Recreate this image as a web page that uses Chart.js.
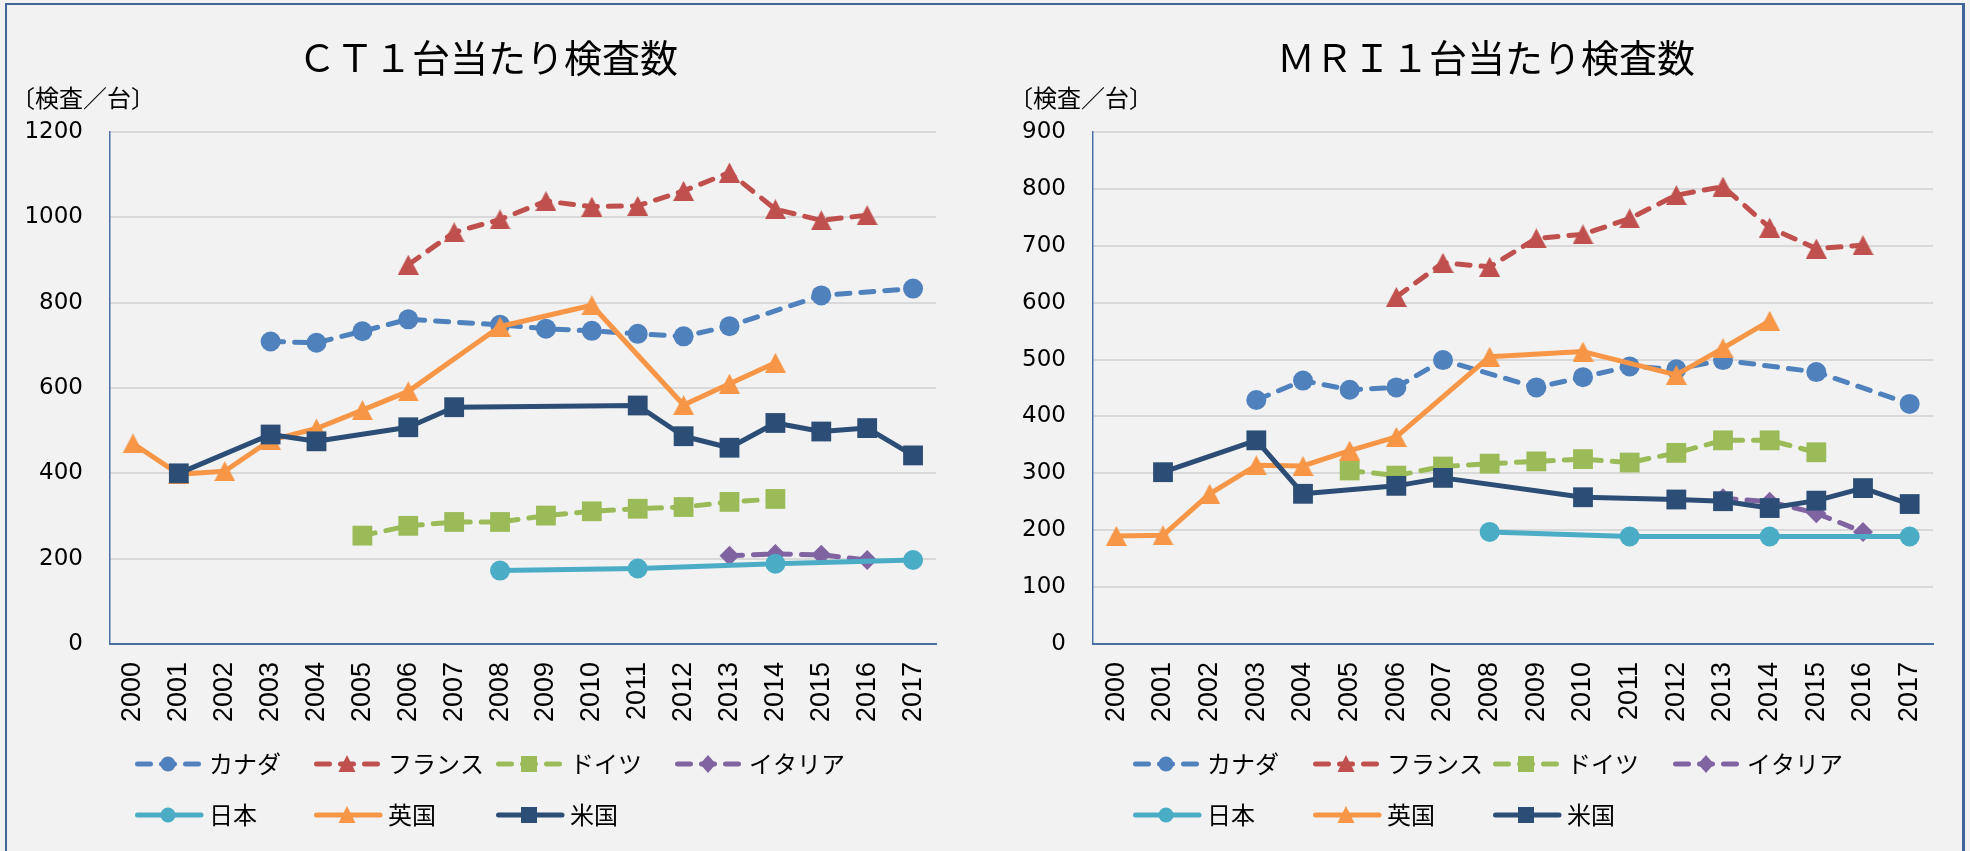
<!DOCTYPE html>
<html lang="ja">
<head>
<meta charset="utf-8">
<title>CT・MRI 1台当たり検査数</title>
<script src="https://cdn.jsdelivr.net/npm/chart.js@4.4.1/dist/chart.umd.min.js"></script>
<style>
  html, body { margin: 0; padding: 0; background: #f2f2f2; overflow: hidden; }
  #frame {
    position: absolute; left: 5px; top: 3px; width: 1955px; height: 900px;
    border: 2px solid #41659a; border-right-width: 3px;
  }
  canvas { position: absolute; top: 0; }
  #ct { left: 0; }
  #mri { left: 985px; }
</style>
</head>
<body>
<div id="frame"></div>
<canvas id="ct" width="985" height="851"></canvas>
<canvas id="mri" width="985" height="851"></canvas>
<script>
// categories
const years = ['2000', '2001', '2002', '2003', '2004', '2005', '2006', '2007', '2008',
               '2009', '2010', '2011', '2012', '2013', '2014', '2015', '2016', '2017'];

const seriesNames = ['カナダ', 'フランス', 'ドイツ', 'イタリア', '日本', '英国', '米国'];
const unitLabel = '〔検査／台〕';

// CT 1台当たり検査数 (null = no data that year)
const ctCanada  = [null, null, null, 709, 706, 733, 761, null, 748, 739, 734, 727, 721, 745, null, 817, null, 833];
const ctFrance  = [null, null, null, null, null, null, 889, 965, 995, 1038, 1025, 1027, 1062, 1105, 1019, 993, 1005, null];
const ctGermany = [null, null, null, null, null, 254, 277, 286, 286, 301, 311, 317, 321, 333, 340, null, null, null];
const ctItaly   = [null, null, null, null, null, null, null, null, null, null, null, null, null, 207, 211, 209, 197, null];
const ctJapan   = [null, null, null, null, null, null, null, null, 172, null, null, 177, null, null, 188, null, null, 197];
const ctUK      = [470, 398, 405, 478, 505, 548, 592, null, 744, null, 794, null, 560, 610, 659, null, null, null];
const ctUS      = [null, 400, null, 491, 475, null, 508, 555, null, null, null, 559, 487, 460, 518, 498, 506, 442];

// MRI 1台当たり検査数
const mriCanada  = [null, null, null, 429, 463, 447, 451, 499, null, 451, 469, 488, 483, 499, null, 478, null, 422];
const mriFrance  = [null, null, null, null, null, null, 610, 670, 663, 713, 720, 748, 789, 804, 732, 695, 701, null];
const mriGermany = [null, null, null, null, null, 305, 296, 312, 317, 321, 325, 319, 336, 358, 358, 337, null, null];
const mriItaly   = [null, null, null, null, null, null, null, null, null, null, null, null, null, 256, 250, 230, 197, null];
const mriJapan   = [null, null, null, null, null, null, null, null, 197, null, null, 189, null, null, 189, null, null, 189];
const mriUK      = [190, 191, 264, 314, 313, 340, 364, null, 505, null, 514, null, 473, 520, 568, null, null, null];
const mriUS      = [null, 302, null, 358, 264, null, 278, 292, null, null, 258, null, 254, 251, 239, 252, 274, 246];

// styles per series
const colors  = ['#4f81bd', '#c0504d', '#9bbb59', '#8064a2', '#4bacc6', '#f79646', '#2c4d75'];
const dashed  = [true, true, true, true, false, false, false];
const markers = ['circle', 'triangle', 'rect', 'rectRot', 'circle', 'triangle', 'rect'];
const DASH = [13, 11];

function triangleImage(color) {
    const c = document.createElement('canvas');
    c.width = 21;
    c.height = 20;
    const g = c.getContext('2d');
    g.fillStyle = color;
    g.beginPath();
    g.moveTo(10.5, 0);
    g.lineTo(21, 20);
    g.lineTo(0, 20);
    g.closePath();
    g.fill();
    return c;
}

function pointSize(kind) {
    if (kind === 'rect') return 14;
    return 10;
}

// small legend marker
function drawMarker(ctx, kind, x, y, color) {
    ctx.fillStyle = color;
    ctx.beginPath();
    if (kind === 'circle') {
        ctx.arc(x, y, 7.5, 0, Math.PI * 2);
    } else if (kind === 'rect') {
        ctx.rect(x - 8, y - 8, 16, 16);
    } else if (kind === 'rectRot') {
        ctx.moveTo(x, y - 9); ctx.lineTo(x + 8, y); ctx.lineTo(x, y + 9); ctx.lineTo(x - 8, y);
    } else {
        ctx.moveTo(x, y - 9); ctx.lineTo(x + 8.5, y + 8); ctx.lineTo(x - 8.5, y + 8);
    }
    ctx.closePath();
    ctx.fill();
}

// title, unit label and the two-row legend
const decorPlugin = {
    id: 'decor',
    afterDraw(chart, args, opts) {
        const ctx = chart.ctx;
        ctx.save();
        ctx.fillStyle = '#000';
        ctx.textBaseline = 'middle';
        ctx.textAlign = 'center';
        ctx.font = '38px "Noto Sans CJK JP"';
        ctx.fillText(opts.title, opts.titleX, 58);

        ctx.textAlign = 'left';
        ctx.font = '24px "Noto Sans CJK JP"';
        ctx.fillText(unitLabel, opts.unitX, 98);

        seriesNames.forEach((name, i) => {
            const x = opts.cols[i < 4 ? i : i - 4];
            const y = i < 4 ? 764 : 815;
            ctx.strokeStyle = colors[i];
            ctx.lineWidth = 5;
            ctx.lineCap = 'round';
            ctx.setLineDash(dashed[i] ? DASH : []);
            ctx.beginPath();
            ctx.moveTo(x + 2.5, y);
            ctx.lineTo(x + 66, y);
            ctx.stroke();
            ctx.setLineDash([]);
            drawMarker(ctx, markers[i], x + 33, y, colors[i]);
            ctx.fillStyle = '#000';
            ctx.font = '24px "Noto Sans CJK JP"';
            ctx.fillText(name, x + 74, y);
        });
        ctx.restore();
    }
};

function makeChart(id, series, yMax, yStep, cfg) {
    const datasets = series.map((values, i) => ({
        label: seriesNames[i],
        data: values,
        borderColor: colors[i],
        backgroundColor: colors[i],
        borderWidth: 5,
        borderDash: dashed[i] ? DASH : [],
        borderCapStyle: 'round',
        borderJoinStyle: 'round',
        pointStyle: markers[i] === 'triangle' ? triangleImage(colors[i]) : markers[i],
        pointRadius: pointSize(markers[i]),
        pointBorderWidth: 0,
        pointHoverRadius: pointSize(markers[i]),
        spanGaps: true,
        tension: 0,
        clip: false,
        order: series.length - i
    }));

    return new Chart(document.getElementById(id), {
        type: 'line',
        data: { labels: years, datasets },
        options: {
            responsive: false,
            animation: false,
            layout: { padding: { top: 132, bottom: 127, left: 0, right: cfg.right } },
            plugins: {
                legend: { display: false },
                tooltip: { enabled: false },
                decor: cfg
            },
            scales: {
                x: {
                    type: 'category',
                    offset: true,
                    grid: { display: false, drawTicks: false },
                    border: { display: true, color: '#4a6fa5', width: 2 },
                    ticks: {
                        autoSkip: false,
                        minRotation: 90,
                        maxRotation: 90,
                        padding: 18,
                        color: '#000',
                        font: { family: '"Liberation Sans"', size: 27 }
                    },
                    afterFit: s => { s.height = 80; }
                },
                y: {
                    min: 0,
                    max: yMax,
                    grid: { color: '#d9d9d9', lineWidth: 2, drawTicks: false },
                    border: { display: true, color: '#4a6fa5', width: 1.5 },
                    ticks: {
                        stepSize: yStep,
                        padding: 27,
                        color: '#000',
                        font: { family: '"DejaVu Sans"', size: 23 },
                        callback: v => String(v)
                    },
                    afterFit: s => { s.width = cfg.axisWidth; }
                }
            }
        },
        plugins: [decorPlugin]
    });
}

makeChart('ct', [ctCanada, ctFrance, ctGermany, ctItaly, ctJapan, ctUK, ctUS], 1200, 200, {
    title: 'ＣＴ１台当たり検査数', titleX: 488, unitX: 11,
    cols: [135, 314, 496, 675], right: 49, axisWidth: 110
});

makeChart('mri', [mriCanada, mriFrance, mriGermany, mriItaly, mriJapan, mriUK, mriUS], 900, 100, {
    title: 'ＭＲＩ１台当たり検査数', titleX: 501, unitX: 24,
    cols: [148, 328, 508, 688], right: 37, axisWidth: 108
});
</script>
</body>
</html>
